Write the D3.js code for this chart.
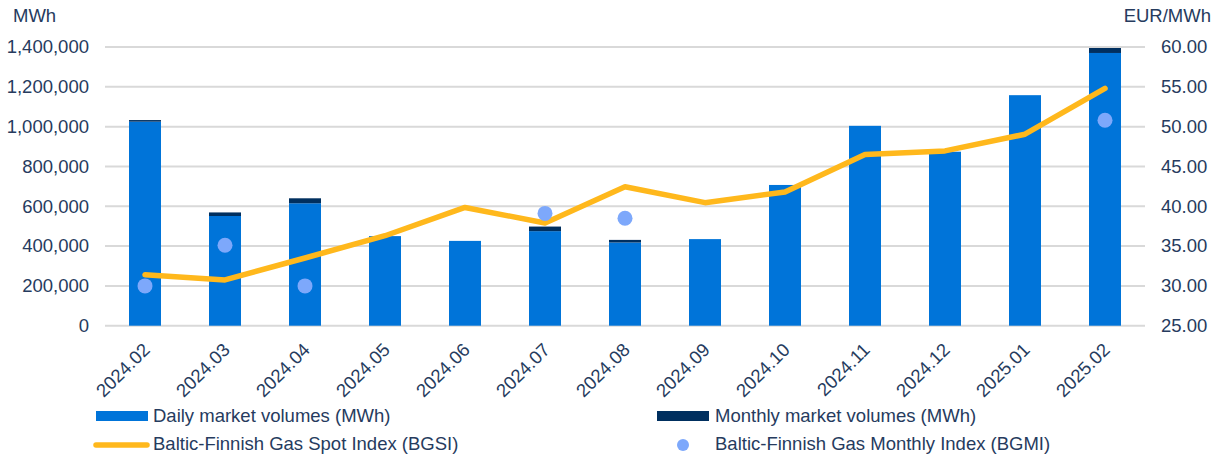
<!DOCTYPE html>
<html>
<head>
<meta charset="utf-8">
<script src="https://cdn.jsdelivr.net/npm/d3@7"></script>
<style>
  html, body { margin: 0; padding: 0; background: #fff; }
  svg { display: block; font-family: "Liberation Sans", Arial, sans-serif; }
</style>
</head>
<body>
<svg id="chart" width="1222" height="459"></svg>
<script>
const categories = ["2024.02","2024.03","2024.04","2024.05","2024.06","2024.07","2024.08","2024.09","2024.10","2024.11","2024.12","2025.01","2025.02"];
const dailyVolumes   = [1025000, 551000, 615000, 450000, 426000, 475000, 418000, 435000, 707000, 1004000, 874000, 1158000, 1370000];
const monthlyVolumes = [8000, 18000, 25000, 0, 0, 23000, 13000, 0, 0, 0, 0, 0, 25000];
const bgsi = [31.4, 30.75, 33.5, 36.3, 39.85, 37.9, 42.45, 40.45, 41.8, 46.5, 46.95, 49.05, 54.8];
const bgmi = [30.0, 35.1, 30.0, null, null, 39.1, 38.5, null, null, null, null, null, 50.8];
const leftTicks = [0, 200000, 400000, 600000, 800000, 1000000, 1200000, 1400000];
const rightTicks = [25, 30, 35, 40, 45, 50, 55, 60];
const legendItems = ["Daily market volumes (MWh)", "Monthly market volumes (MWh)", "Baltic-Finnish Gas Spot Index (BGSI)", "Baltic-Finnish Gas Monthly Index (BGMI)"];

const C = {
  daily: "#0074D9", monthly: "#002F5F", line: "#FFB81C", dot: "#7DA8FB",
  grid: "#D9D9D9", text: "#263B5E"
};
const FS = 18.5;

const svg = d3.select("#chart");
const L = 105, R = 1145, T = 47, B = 325.7;

const x = d3.scaleBand().domain(categories).range([L, R]).paddingInner(0.6).paddingOuter(0.3);
const yL = d3.scaleLinear().domain([0, 1400000]).range([B, T]);
const yR = d3.scaleLinear().domain([25, 60]).range([B, T]);

// gridlines
svg.append("g").selectAll("line").data(leftTicks).join("line")
  .attr("x1", L).attr("x2", R)
  .attr("y1", d => yL(d)).attr("y2", d => yL(d))
  .attr("stroke", C.grid).attr("stroke-width", 2);

// left axis
const fmt = d3.format(",");
const gl = svg.append("g").attr("transform", `translate(${L},0)`)
  .call(d3.axisLeft(yL).tickValues(leftTicks).tickFormat(fmt).tickSize(0).tickPadding(16));
gl.select(".domain").remove();
gl.selectAll("text").attr("fill", C.text).attr("font-size", FS).attr("font-family", "Liberation Sans, Arial, sans-serif");

// right axis
const gr = svg.append("g").attr("transform", `translate(${R},0)`)
  .call(d3.axisRight(yR).tickValues(rightTicks).tickFormat(d3.format(".2f")).tickSize(0).tickPadding(16));
gr.select(".domain").remove();
gr.selectAll("text").attr("fill", C.text).attr("font-size", FS).attr("font-family", "Liberation Sans, Arial, sans-serif");

// axis titles
svg.append("text").attr("x", 13).attr("y", 22).attr("fill", C.text).attr("font-size", FS).text("MWh");
svg.append("text").attr("x", 1211).attr("y", 22).attr("text-anchor", "end").attr("fill", C.text).attr("font-size", FS).text("EUR/MWh");

// stacked bars
const rows = categories.map((c, i) => ({ cat: c, daily: dailyVolumes[i], monthly: monthlyVolumes[i] }));
const stack = d3.stack().keys(["daily", "monthly"])(rows);
const colors = { daily: C.daily, monthly: C.monthly };
svg.append("g").selectAll("g").data(stack).join("g")
  .attr("fill", d => colors[d.key])
  .selectAll("rect").data(d => d).join("rect")
  .attr("x", d => x(d.data.cat))
  .attr("width", x.bandwidth())
  .attr("y", d => yL(d[1]))
  .attr("height", d => Math.max(0, yL(d[0]) - yL(d[1])));

// x labels
svg.append("g").selectAll("text").data(categories).join("text")
  .attr("transform", d => `translate(${x(d) + x.bandwidth() / 2 + 6},${351}) rotate(-45)`)
  .attr("text-anchor", "end")
  .attr("fill", C.text).attr("font-size", FS)
  .text(d => d);

// BGSI line
const line = d3.line().x((d, i) => x(categories[i]) + x.bandwidth() / 2).y(d => yR(d));
svg.append("path").datum(bgsi).attr("d", line)
  .attr("fill", "none").attr("stroke", C.line).attr("stroke-width", 5.5)
  .attr("stroke-linejoin", "round").attr("stroke-linecap", "round");

// BGMI dots
svg.append("g").selectAll("circle")
  .data(bgmi.map((v, i) => ({ v, c: categories[i] })).filter(d => d.v != null))
  .join("circle")
  .attr("cx", d => x(d.c) + x.bandwidth() / 2)
  .attr("cy", d => yR(d.v))
  .attr("r", 7.5).attr("fill", C.dot);

// legend
const lg = svg.append("g").attr("fill", C.text).attr("font-size", FS);
lg.append("rect").attr("x", 96).attr("y", 411).attr("width", 52).attr("height", 10).attr("fill", C.daily);
lg.append("text").attr("x", 153).attr("y", 416).attr("dy", "0.35em").text(legendItems[0]);
lg.append("rect").attr("x", 657).attr("y", 411).attr("width", 52).attr("height", 10).attr("fill", C.monthly);
lg.append("text").attr("x", 715).attr("y", 416).attr("dy", "0.35em").text(legendItems[1]);
lg.append("line").attr("x1", 96).attr("x2", 147).attr("y1", 445).attr("y2", 445)
  .attr("stroke", C.line).attr("stroke-width", 5.5).attr("stroke-linecap", "round");
lg.append("text").attr("x", 153).attr("y", 444).attr("dy", "0.35em").text(legendItems[2]);
lg.append("circle").attr("cx", 683).attr("cy", 445).attr("r", 6).attr("fill", C.dot);
lg.append("text").attr("x", 715).attr("y", 444).attr("dy", "0.35em").text(legendItems[3]);
</script>
</body>
</html>
